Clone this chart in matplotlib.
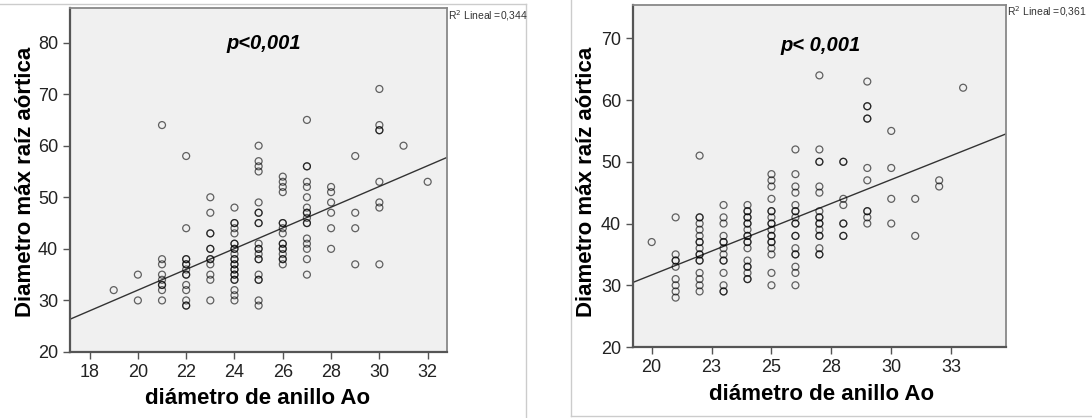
import matplotlib.pyplot as plt
import numpy as np

# grafico izquierdo: diametro de anillo Ao (x) vs diametro max raiz aortica (y)
izq_x = [19, 20, 21, 22, 23, 24, 25, 26, 27, 28, 29, 30, 31, 32]
izq_y = [
    [32],
    [35, 30],
    [64, 38, 37, 35, 34, 33, 33, 32, 30],
    [58, 44, 38, 38, 37, 37, 36, 35, 35, 33, 32, 30, 29, 29],
    [50, 47, 43, 43, 40, 40, 38, 38, 37, 35, 34, 30],
    [48, 45, 45, 44, 43, 41, 41, 40, 40, 39, 38, 38, 37, 37, 36, 36, 35, 35,
     34, 34, 32, 31, 30],
    [60, 57, 56, 55, 49, 47, 47, 45, 45, 41, 40, 40, 39, 38, 38, 35, 34, 34,
     30, 29],
    [54, 53, 52, 51, 45, 45, 44, 43, 41, 41, 40, 40, 39, 38, 38, 37],
    [65, 56, 56, 53, 52, 50, 48, 47, 47, 46, 45, 45, 42, 41, 40, 38, 35],
    [52, 51, 49, 47, 44, 40],
    [58, 47, 44, 37],
    [71, 64, 63, 63, 53, 49, 48, 37],
    [60],
    [53],
]
izq_recta = (-8.2, 2.01)   # intercepto, pendiente
izq_r2 = "0,344"

# grafico derecho
der_x = [20, 21, 22, 23, 24, 25, 26, 27, 28, 29, 30, 31, 32, 33]
der_y = [
    [37],
    [41, 35, 34, 34, 33, 31, 30, 29, 28],
    [51, 41, 41, 40, 39, 38, 37, 37, 36, 35, 35, 34, 34, 32, 31, 30, 29],
    [43, 41, 40, 38, 37, 37, 36, 35, 34, 34, 32, 30, 29, 29],
    [43, 42, 42, 41, 41, 40, 40, 39, 38, 38, 37, 37, 36, 34, 33, 33, 32, 31, 31],
    [48, 47, 46, 44, 42, 42, 41, 40, 40, 39, 38, 38, 37, 37, 36, 35, 32, 30],
    [52, 48, 46, 45, 43, 42, 42, 41, 40, 40, 38, 38, 36, 35, 35, 33, 32, 30],
    [64, 52, 50, 50, 46, 45, 42, 41, 41, 40, 40, 39, 38, 38, 36, 35, 35],
    [50, 50, 44, 43, 40, 40, 38, 38],
    [63, 59, 59, 57, 57, 49, 47, 42, 42, 41, 40],
    [55, 49, 44, 40],
    [44, 38],
    [47, 46],
    [62],
]
der_recta = (0.77, 1.545)
der_r2 = "0,361"
der_ticks = [20, 22.5, 25, 27.5, 30, 32.5]
der_ticklabels = ['20', '23', '25', '28', '30', '33']

W, H = 1092, 418
fig = plt.figure(figsize=(W / 100, H / 100), dpi=100)
plt.rcParams['font.family'] = 'Liberation Sans'


def caja(l, t, r, b):
    return fig.add_axes([l / W, 1 - b / H, (r - l) / W, (b - t) / H])


def dibuja(ax, xs, ys, recta, xlim, ylim):
    px = np.concatenate([[x] * len(y) for x, y in zip(xs, ys)])
    py = np.concatenate(ys)
    ax.set_facecolor('#f0f0f0')
    ax.scatter(px, py, s=25, facecolors='none', edgecolors='black',
               linewidths=0.9, alpha=0.6, zorder=3)
    lx = np.array(xlim)
    ax.plot(lx, recta[0] + recta[1] * lx, color='#333333', lw=1.0, zorder=2)
    ax.set_xlim(xlim)
    ax.set_ylim(ylim)
    for s in ['left', 'bottom']:
        ax.spines[s].set_color('#555555')
        ax.spines[s].set_linewidth(1.6)
    for s in ['right', 'top']:
        ax.spines[s].set_color('#888888')
        ax.spines[s].set_linewidth(1.3)
    ax.tick_params(direction='out', length=5, width=1, color='#555555',
                   labelsize=13, labelcolor='#222222')


# panel izquierdo
ax1 = caja(70, 8, 447, 352)
dibuja(ax1, izq_x, izq_y, izq_recta, (17.19, 32.8), (20, 86.7))
ax1.set_xticks(np.arange(18, 33, 2))
ax1.set_yticks(np.arange(20, 81, 10))
ax1.text(25.2, 79.9, 'p<0,001', fontsize=14.5, fontweight='bold',
         fontstyle='italic', ha='center', va='center')
fig.text(448 / W, 1 - 16 / H, 'R$^2$ Lineal =' + izq_r2, fontsize=7.5,
         va='center', ha='left', color='#333333')
fig.text(26 / W, 1 - 182 / H, 'Diametro máx raíz aórtica', rotation=90,
         fontsize=16, fontweight='bold', ha='center', va='center')
fig.text(258 / W, 1 - 398 / H, 'diámetro de anillo Ao', fontsize=16,
         fontweight='bold', ha='center', va='center')

# panel derecho
ax2 = caja(633, 5, 1006, 347)
dibuja(ax2, der_x, der_y, der_recta, (19.22, 34.79), (20, 75.4))
ax2.set_xticks(der_ticks)
ax2.set_xticklabels(der_ticklabels)
ax2.set_yticks(np.arange(20, 71, 10))
ax2.text(27.07, 68.9, 'p< 0,001', fontsize=14.5, fontweight='bold',
         fontstyle='italic', ha='center', va='center')
fig.text(1007 / W, 1 - 12 / H, 'R$^2$ Lineal =' + der_r2, fontsize=7.5,
         va='center', ha='left', color='#333333')
fig.text(586 / W, 1 - 182 / H, 'Diametro máx raíz aórtica', rotation=90,
         fontsize=16, fontweight='bold', ha='center', va='center')
fig.text(822 / W, 1 - 394 / H, 'diámetro de anillo Ao', fontsize=16,
         fontweight='bold', ha='center', va='center')

# bordes de los recuadros de SPSS
fig.add_artist(plt.Line2D([0, 526 / W], [1 - 4 / H, 1 - 4 / H], color='#cccccc', lw=1))
fig.add_artist(plt.Line2D([526 / W, 526 / W], [0, 1 - 4 / H], color='#cccccc', lw=1))
fig.add_artist(plt.Line2D([571 / W, 571 / W], [2 / H, 1], color='#cccccc', lw=1))
fig.add_artist(plt.Line2D([571 / W, 1], [2 / H, 2 / H], color='#cccccc', lw=1))

plt.savefig('out.png', dpi=100)
